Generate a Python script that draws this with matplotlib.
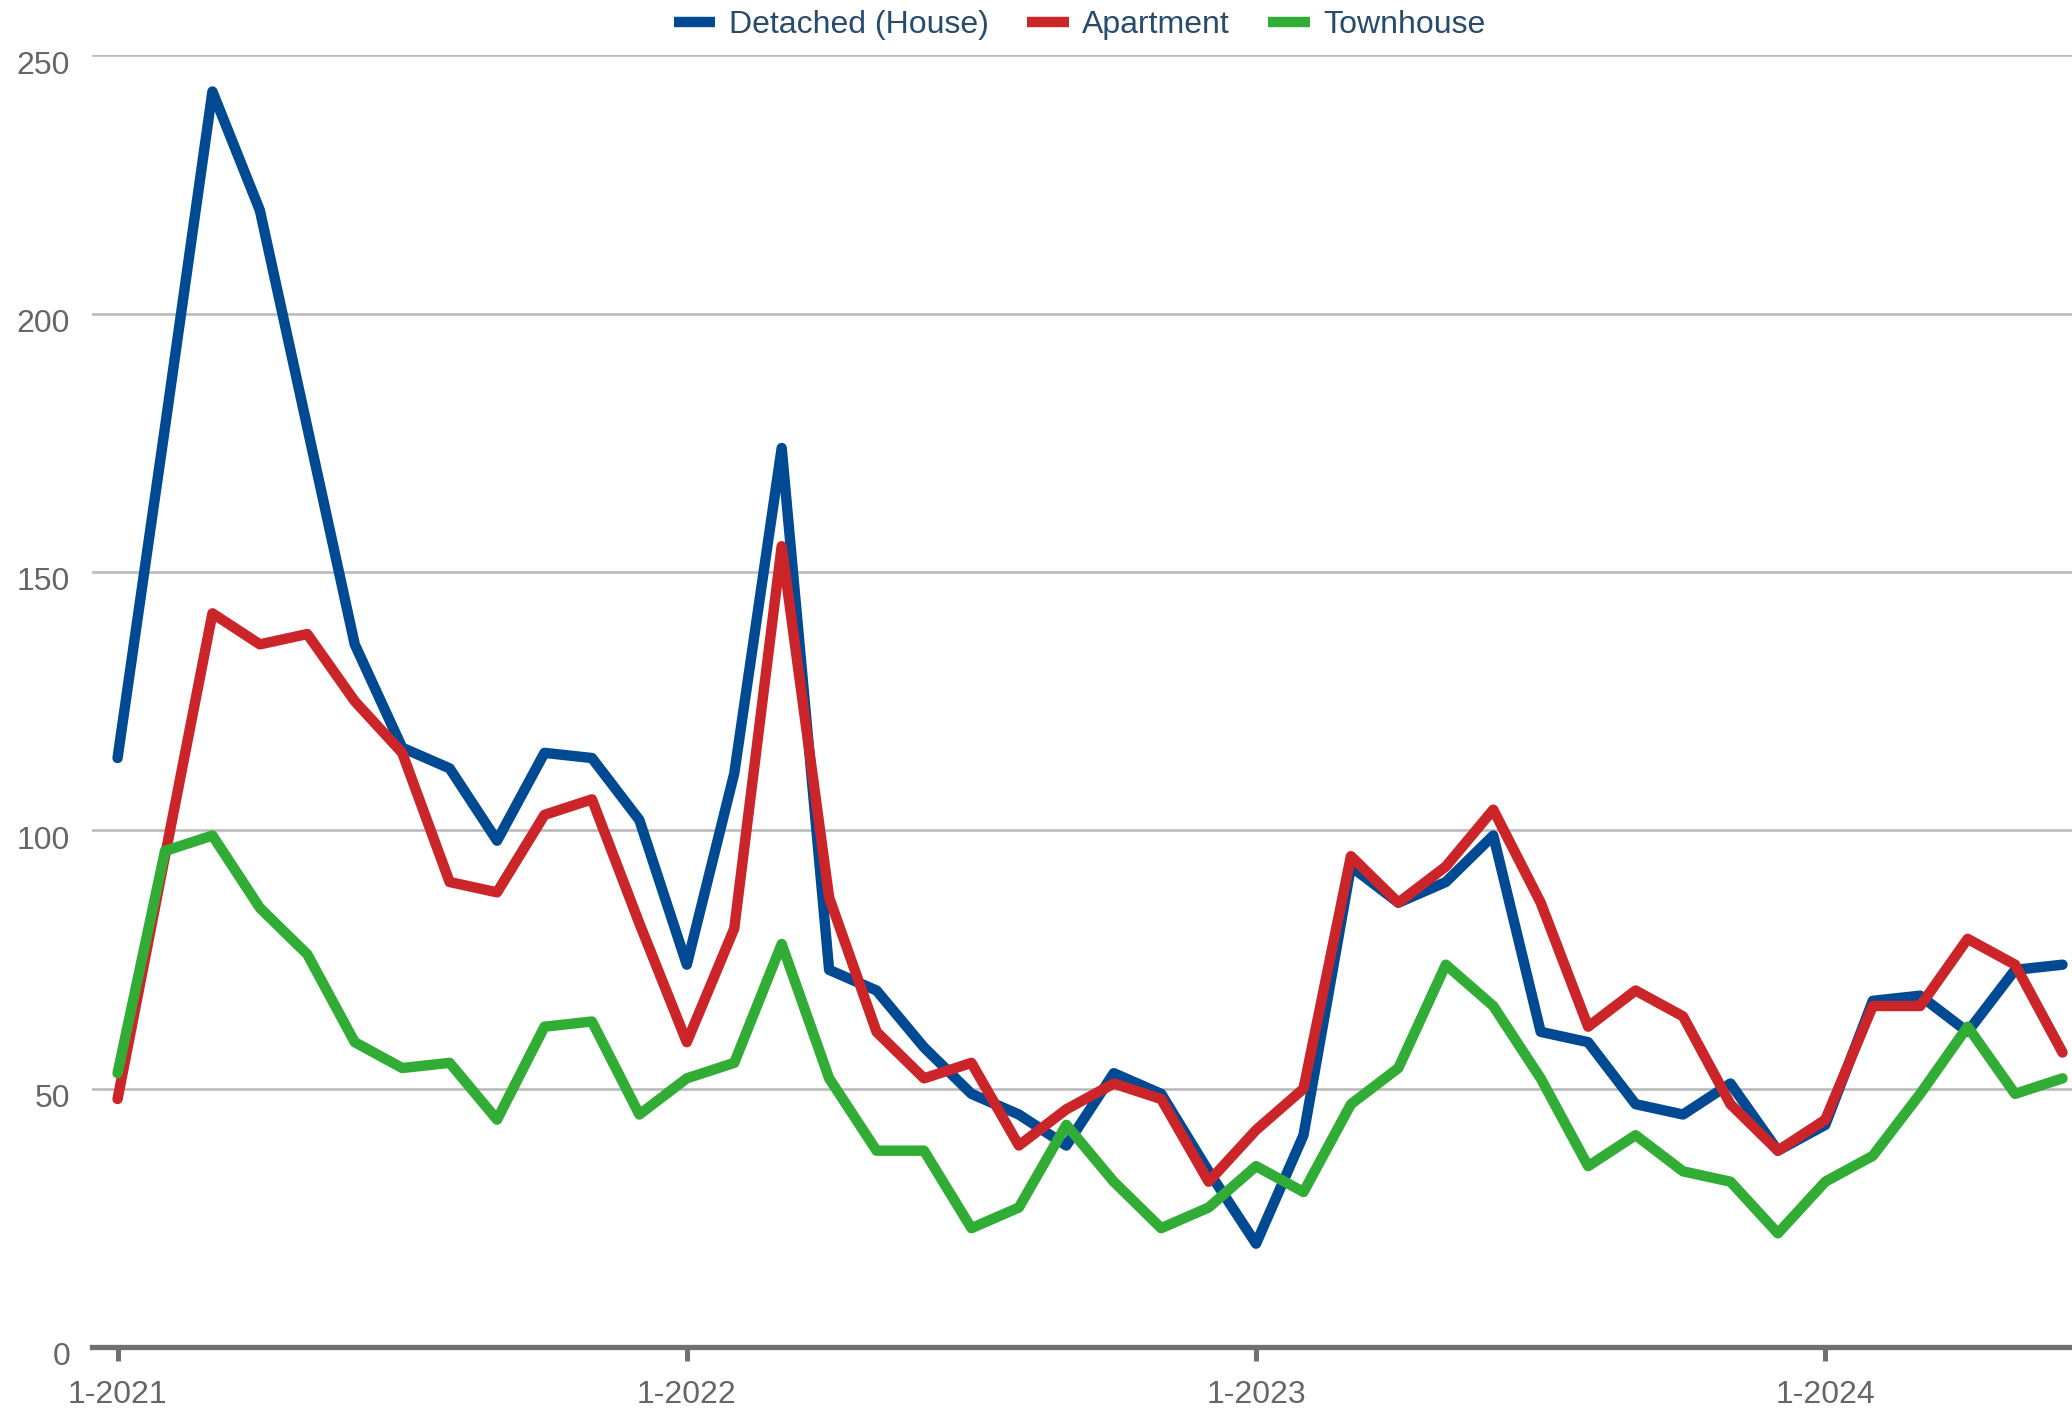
import numpy as np
import matplotlib.pyplot as plt
from matplotlib.transforms import ScaledTranslation

plt.rcParams['font.family'] = ['Liberation Sans', 'DejaVu Sans']

# months since 1-2021
months = np.arange(42)

detached = [114, 178, 243, 220, 178, 136, 116, 112, 98, 115, 114, 102,
            74, 111, 174, 73, 69, 58, 49, 45, 39, 53, 49, 34,
            20, 41, 93, 86, 90, 99, 61, 59, 47, 45, 51, 38,
            43, 67, 68, 61, 73, 74]
apartment = [48, 95, 142, 136, 138, 125, 115, 90, 88, 103, 106, 82,
             59, 81, 155, 87, 61, 52, 55, 39, 46, 51, 48, 32,
             42, 50, 95, 86, 93, 104, 86, 62, 69, 64, 47, 38,
             44, 66, 66, 79, 74, 57]
townhouse = [53, 96, 99, 85, 76, 59, 54, 55, 44, 62, 63, 45,
             52, 55, 78, 52, 38, 38, 23, 27, 43, 32, 23, 27,
             35, 30, 47, 54, 74, 66, 52, 35, 41, 34, 32, 22,
             32, 37, 49, 62, 49, 52]

series = [('Detached (House)', detached, '#004a93'),
          ('Apartment', apartment, '#cc2529'),
          ('Townhouse', townhouse, '#31ad36')]

xtick_pos = [0, 12, 24, 36]
xtick_labels = ['1-2021', '1-2022', '1-2023', '1-2024']
yticks = [0, 50, 100, 150, 200, 250]

fig = plt.figure(figsize=(20.72, 14.09), dpi=100)
ax = fig.add_axes([0.0446, 0.044, 0.9554, 0.9167])

for name, vals, col in series:
    ax.plot(months, vals, color=col, lw=7.5, label=name,
            solid_capstyle='round', solid_joinstyle='round', clip_on=False)

ax.set_xlim(-0.53, 41.2)
ax.set_ylim(0, 250)
ax.set_yticks(yticks)
ax.set_xticks(xtick_pos)
ax.set_xticklabels(xtick_labels)

ax.grid(axis='y', color='#bbbbbb', lw=1.9)
ax.set_axisbelow(True)
for s in ['top', 'right', 'left']:
    ax.spines[s].set_visible(False)
ax.spines['bottom'].set_color('#707070')
ax.spines['bottom'].set_linewidth(3.8)
ax.spines['bottom'].set_zorder(5)

ax.tick_params(axis='y', length=0, pad=16, labelsize=23, labelcolor='#666666')
ax.tick_params(axis='x', length=10, width=3.6, color='#707070', pad=14,
               labelsize=23, labelcolor='#666666')
# labels sit a bit below their gridline in the original
shift = ScaledTranslation(0, -5 / 72, fig.dpi_scale_trans)
for lab in ax.get_yticklabels():
    lab.set_va('center_baseline')
    lab.set_transform(lab.get_transform() + shift)

leg = fig.legend(loc='center', bbox_to_anchor=(0.521, 0.982), ncol=3,
                 frameon=False, fontsize=23, handlelength=1.3,
                 handletextpad=0.42, columnspacing=1.2, borderaxespad=0)
for t in leg.get_texts():
    t.set_color('#274b6d')
for h in leg.get_lines():
    h.set_linewidth(7.5)
    h.set_solid_capstyle('butt')

fig.savefig('out.png', dpi=100)
